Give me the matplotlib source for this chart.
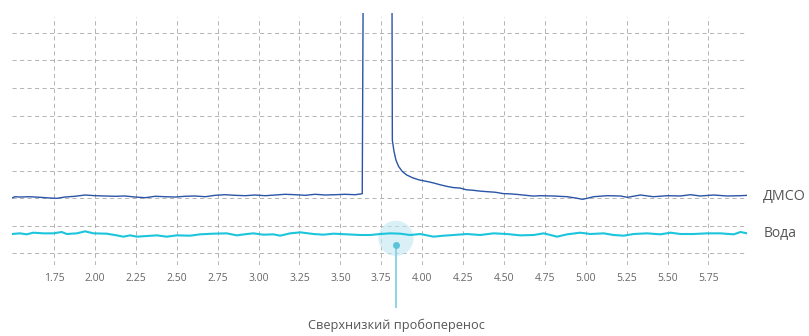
import matplotlib
matplotlib.use("Agg")
import matplotlib.pyplot as plt

plt.rcParams['font.family'] = ['Open Sans', 'DejaVu Sans']

# ДМСО trace (retention time vs signal)
dmso_x = [1.493, 1.511, 1.542, 1.603, 1.664, 1.726, 1.768, 1.817, 1.878, 1.940,
          2.001, 2.062, 2.123, 2.184, 2.245, 2.307, 2.368, 2.429, 2.490, 2.551,
          2.612, 2.674, 2.735, 2.796, 2.857, 2.918, 2.979, 3.041, 3.102, 3.163,
          3.224, 3.285, 3.346, 3.407, 3.469, 3.530, 3.591, 3.634, 3.643, 3.814,
          3.818, 3.828, 3.840, 3.856, 3.878, 3.905, 3.940, 3.980, 4.031, 4.068,
          4.111, 4.154, 4.190, 4.233, 4.270, 4.313, 4.355, 4.398, 4.447, 4.496,
          4.539, 4.582, 4.631, 4.680, 4.722, 4.802, 4.888, 4.949, 4.979, 5.010,
          5.047, 5.132, 5.212, 5.255, 5.334, 5.414, 5.499, 5.579, 5.640, 5.701,
          5.781, 5.866, 5.946, 5.995]
dmso_y = [2.000, 2.047, 2.036, 2.047, 2.025, 2.000, 1.989, 2.036, 2.062, 2.109,
          2.084, 2.073, 2.062, 2.073, 2.036, 2.011, 2.062, 2.047, 2.036, 2.062,
          2.073, 2.047, 2.098, 2.120, 2.098, 2.084, 2.109, 2.084, 2.109, 2.135,
          2.120, 2.098, 2.135, 2.109, 2.120, 2.135, 2.120, 2.156, 14.0, 14.0,
          4.10, 3.70, 3.38, 3.15, 2.97, 2.84, 2.74, 2.66, 2.60, 2.55,
          2.48, 2.42, 2.38, 2.36, 2.30, 2.28, 2.25, 2.23, 2.21, 2.16,
          2.15, 2.13, 2.10, 2.07, 2.084, 2.073, 2.047, 1.989, 1.953, 1.989,
          2.047, 2.084, 2.073, 2.025, 2.109, 2.047, 2.084, 2.073, 2.120, 2.073,
          2.109, 2.073, 2.084, 2.098]

# Вода trace
water_x = [1.491, 1.542, 1.583, 1.623, 1.685, 1.746, 1.797, 1.828, 1.889, 1.940,
           1.991, 2.072, 2.133, 2.174, 2.215, 2.256, 2.317, 2.378, 2.439, 2.500,
           2.582, 2.643, 2.724, 2.806, 2.867, 2.929, 2.969, 3.030, 3.091, 3.132,
           3.193, 3.255, 3.336, 3.397, 3.458, 3.540, 3.621, 3.683, 3.744, 3.805,
           3.866, 3.927, 3.989, 4.070, 4.131, 4.192, 4.274, 4.355, 4.437, 4.519,
           4.600, 4.682, 4.743, 4.825, 4.886, 4.967, 5.028, 5.110, 5.171, 5.232,
           5.293, 5.375, 5.456, 5.518, 5.579, 5.660, 5.742, 5.823, 5.905, 5.946,
           5.997]
water_y = [0.691, 0.715, 0.679, 0.739, 0.715, 0.715, 0.764, 0.691, 0.715, 0.788,
           0.715, 0.703, 0.642, 0.594, 0.642, 0.594, 0.618, 0.642, 0.594, 0.642,
           0.630, 0.679, 0.703, 0.715, 0.642, 0.691, 0.715, 0.667, 0.679, 0.630,
           0.715, 0.752, 0.691, 0.667, 0.703, 0.679, 0.655, 0.655, 0.691, 0.715,
           0.703, 0.655, 0.691, 0.594, 0.630, 0.655, 0.691, 0.655, 0.715, 0.691,
           0.642, 0.655, 0.715, 0.594, 0.679, 0.739, 0.691, 0.715, 0.655, 0.630,
           0.691, 0.715, 0.679, 0.739, 0.691, 0.691, 0.715, 0.715, 0.679, 0.764,
           0.703]

xticks = [1.75, 2.00, 2.25, 2.50, 2.75, 3.00, 3.25, 3.50, 3.75, 4.00,
          4.25, 4.50, 4.75, 5.00, 5.25, 5.50, 5.75]
ygrid = [0, 1, 2, 3, 4, 5, 6, 7, 8]

series_labels = ['ДМСО', 'Вода']
note_text = 'Сверхнизкий пробоперенос'
note_x, note_ring_y, note_dot_y = 3.84, 0.535, 0.29

fig = plt.figure(figsize=(8.09, 3.36), dpi=100)
ax = fig.add_axes([0.0148, 0.2113, 0.9086, 0.75])

dash = (0, (5, 4))
for g in ygrid:
    ax.axhline(g, color='#a8a8a8', lw=0.6, ls=dash, zorder=0)
for t in xticks:
    ax.axvline(t, ymin=0, ymax=0.985, color='#a8a8a8', lw=0.6, ls=dash, zorder=0)

ax.plot(dmso_x, dmso_y, color='#2a54a6', lw=1.0, zorder=3)
ax.plot(water_x, water_y, color='#1cc5dc', lw=1.5, zorder=3)

# annotation marker
ax.scatter([note_x], [note_ring_y], s=640, color='#bfe6f0', alpha=0.6,
           edgecolors='none', zorder=2)
ax.plot([note_x, note_x], [note_dot_y, -1.96], color='#8fd3e4', lw=1.4,
        clip_on=False, zorder=4)
ax.plot([note_x], [note_dot_y], 'o', ms=5, color='#5cc3d9', mec='none', zorder=5)
ax.text(note_x, -2.62, note_text, ha='center', va='center', fontsize=9.2,
        color='#555555', clip_on=False)

ax.set_xlim(1.493, 5.986)
ax.set_ylim(-0.436, 8.727)
ax.set_xticks(xticks)
ax.set_xticklabels(['%.2f' % t for t in xticks])
ax.set_yticks([])
ax.tick_params(axis='x', length=0, pad=6, labelsize=7.5, labelcolor='#666666')
for s in ax.spines.values():
    s.set_visible(False)

ax.text(6.08, 2.07, series_labels[0], ha='left', va='center', fontsize=10.3,
        color='#555555', clip_on=False)
ax.text(6.085, 0.70, series_labels[1], ha='left', va='center', fontsize=10,
        color='#555555', clip_on=False)

fig.savefig('out.png', dpi=100)
